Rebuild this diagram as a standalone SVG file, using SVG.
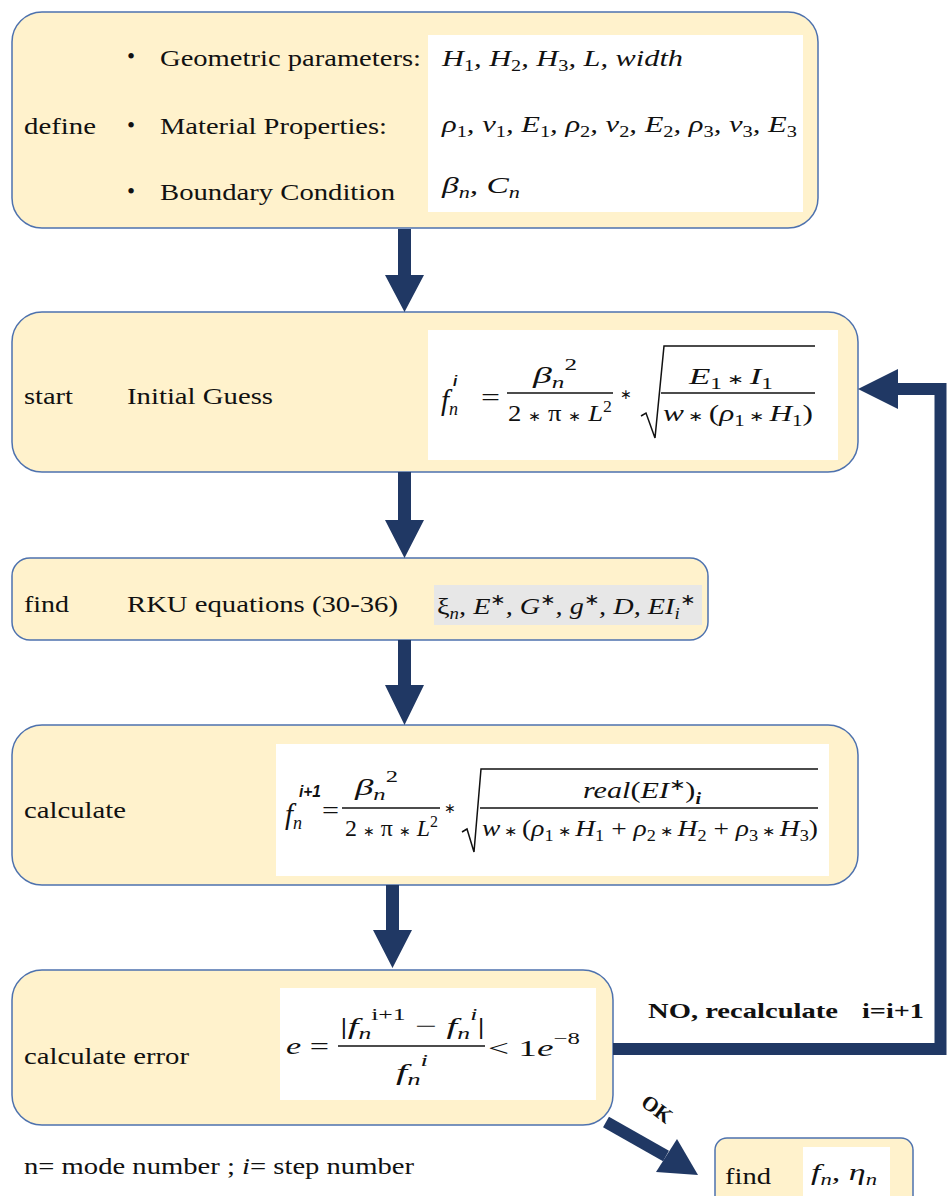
<svg xmlns="http://www.w3.org/2000/svg" width="947" height="1196" viewBox="0 0 947 1196">
<style>
.box{fill:#FFF2CC;stroke:#4E72AE;stroke-width:1.5}
.wb{fill:#FFFFFF}
.t{font-family:"Liberation Serif","Times New Roman",serif;font-size:23px;fill:#111}
.b{font-family:"Liberation Serif","Times New Roman",serif;font-size:21px;font-weight:bold;fill:#111}
.m{font-family:"Liberation Serif","Times New Roman",serif;font-style:italic;font-size:24px;fill:#111}
.u{font-style:normal}
.s{font-size:16px}
.a{font-style:normal;font-size:14px}
.fl{stroke:#111;stroke-width:1.3}
.ar{fill:#203864}
.al{fill:none;stroke:#203864;stroke-width:12}
</style>
<g id="define" font-family="Liberation Serif, serif">
<rect class="box" x="12" y="12" width="806" height="216" rx="30"/>
<rect class="wb" x="428" y="35" width="375" height="177"/>
<text class="t" x="24" y="134" textLength="72" lengthAdjust="spacingAndGlyphs">define</text>
<text class="t" x="127" y="64">•</text><text class="t" x="160" y="66" textLength="261" lengthAdjust="spacingAndGlyphs">Geometric parameters:</text>
<text class="t" x="127" y="133">•</text><text class="t" x="160" y="134" textLength="227" lengthAdjust="spacingAndGlyphs">Material Properties:</text>
<text class="t" x="127" y="199">•</text><text class="t" x="160" y="200" textLength="235" lengthAdjust="spacingAndGlyphs">Boundary Condition</text>
<text class="m" x="442" y="66" textLength="241" lengthAdjust="spacingAndGlyphs">H<tspan class="s u" dy="5">1</tspan><tspan dy="-5">, H</tspan><tspan class="s u" dy="5">2</tspan><tspan dy="-5">, H</tspan><tspan class="s u" dy="5">3</tspan><tspan dy="-5">, L, width</tspan></text>
<text class="m" x="442" y="132" textLength="355" lengthAdjust="spacingAndGlyphs">ρ<tspan class="s u" dy="5">1</tspan><tspan dy="-5">, ν</tspan><tspan class="s u" dy="5">1</tspan><tspan dy="-5">, E</tspan><tspan class="s u" dy="5">1</tspan><tspan dy="-5">, ρ</tspan><tspan class="s u" dy="5">2</tspan><tspan dy="-5">, ν</tspan><tspan class="s u" dy="5">2</tspan><tspan dy="-5">, E</tspan><tspan class="s u" dy="5">2</tspan><tspan dy="-5">, ρ</tspan><tspan class="s u" dy="5">3</tspan><tspan dy="-5">, ν</tspan><tspan class="s u" dy="5">3</tspan><tspan dy="-5">, E</tspan><tspan class="s u" dy="5">3</tspan></text>
<text class="m" x="442" y="193" textLength="78" lengthAdjust="spacingAndGlyphs">β<tspan class="s" dy="5">n</tspan><tspan dy="-5">, C</tspan><tspan class="s" dy="5">n</tspan></text>
</g>
<g id="start" font-family="Liberation Serif, serif">
<rect class="box" x="12" y="312" width="846" height="160" rx="30"/>
<rect class="wb" x="428" y="330" width="410" height="130"/>
<text class="t" x="24" y="404" textLength="49" lengthAdjust="spacingAndGlyphs">start</text>
<text class="t" x="127" y="404" textLength="146" lengthAdjust="spacingAndGlyphs">Initial Guess</text>
<text class="m" x="441" y="410" style="font-size:29px">f<tspan class="s" dy="5" style="font-size:18px">n</tspan></text>
<text x="453" y="386" font-family="Liberation Sans, Arial, sans-serif" font-weight="bold" font-style="italic" font-size="15" fill="#111">i</text>
<text class="m u" x="481" y="405" textLength="19" lengthAdjust="spacingAndGlyphs">=</text>
<text class="m" x="533" y="383" textLength="44" lengthAdjust="spacingAndGlyphs">β<tspan class="s" dy="5">n</tspan><tspan class="s u" dy="-18">2</tspan></text>
<line class="fl" x1="507" y1="393" x2="613" y2="393"/>
<text class="m" x="508" y="421" textLength="104" lengthAdjust="spacingAndGlyphs"><tspan class="u">2 </tspan><tspan class="a">∗</tspan><tspan class="u"> π </tspan><tspan class="a">∗</tspan> L<tspan class="s u" dy="-9">2</tspan></text>
<text class="a" x="626" y="399" text-anchor="middle" font-family="Liberation Serif, serif" fill="#111">∗</text>
<path d="M641 416 L646 413 L655 438 L664 346 L815 346" fill="none" stroke="#111" stroke-width="1.5"/>
<text class="m" x="689" y="384" textLength="84" lengthAdjust="spacingAndGlyphs">E<tspan class="s u" dy="5">1</tspan><tspan class="a" dy="-5"> ∗ </tspan>I<tspan class="s u" dy="5">1</tspan></text>
<line class="fl" x1="661" y1="393" x2="815" y2="393"/>
<text class="m" x="663" y="421" textLength="150" lengthAdjust="spacingAndGlyphs">w<tspan class="a"> ∗ </tspan><tspan class="u">(</tspan>ρ<tspan class="s u" dy="5">1</tspan><tspan class="a" dy="-5"> ∗ </tspan>H<tspan class="s u" dy="5">1</tspan><tspan class="u" dy="-5">)</tspan></text>
</g>
<g id="find-rku" font-family="Liberation Serif, serif">
<rect class="box" x="12" y="558" width="696" height="82" rx="18"/>
<rect fill="#E7E7E7" x="434" y="585" width="268" height="40"/>
<text class="t" x="24" y="612" textLength="45" lengthAdjust="spacingAndGlyphs">find</text>
<text class="t" x="127" y="612" textLength="271" lengthAdjust="spacingAndGlyphs">RKU equations (30-36)</text>
<text class="m" x="437" y="614" textLength="258" lengthAdjust="spacingAndGlyphs"><tspan class="u">ξ</tspan><tspan class="s" dy="5">n</tspan><tspan dy="-5">, E</tspan><tspan class="s u" dy="-9">∗</tspan><tspan dy="9">, G</tspan><tspan class="s u" dy="-9">∗</tspan><tspan dy="9">, g</tspan><tspan class="s u" dy="-9">∗</tspan><tspan dy="9">, D, EI</tspan><tspan class="s" dy="5">i</tspan><tspan class="s u" dy="-14">∗</tspan></text>
</g>
<g id="calculate" font-family="Liberation Serif, serif">
<rect class="box" x="12" y="725" width="846" height="160" rx="30"/>
<rect class="wb" x="276" y="744" width="553" height="132"/>
<text class="t" x="24" y="818" textLength="102" lengthAdjust="spacingAndGlyphs">calculate</text>
<text class="m" x="285" y="824" style="font-size:29px">f<tspan class="s" dy="5" style="font-size:18px">n</tspan></text>
<text x="299" y="797" font-family="Liberation Sans, Arial, sans-serif" font-weight="bold" font-style="italic" font-size="16" fill="#111" textLength="22" lengthAdjust="spacingAndGlyphs">i+1</text>
<text class="m u" x="322" y="818" textLength="17" lengthAdjust="spacingAndGlyphs">=</text>
<text class="m" x="355" y="795" textLength="43" lengthAdjust="spacingAndGlyphs">β<tspan class="s" dy="5">n</tspan><tspan class="s u" dy="-18">2</tspan></text>
<line class="fl" x1="342" y1="808" x2="440" y2="808"/>
<text class="m" x="345" y="836" textLength="93" lengthAdjust="spacingAndGlyphs"><tspan class="u">2 </tspan><tspan class="a">∗</tspan><tspan class="u"> π </tspan><tspan class="a">∗</tspan> L<tspan class="s u" dy="-9">2</tspan></text>
<text class="a" x="450" y="813" text-anchor="middle" font-family="Liberation Serif, serif" fill="#111">∗</text>
<path d="M462 832 L467 829 L474 852 L481 769 L818 769" fill="none" stroke="#111" stroke-width="1.5"/>
<text class="m" x="583" y="798" textLength="118" lengthAdjust="spacingAndGlyphs">real<tspan class="u">(</tspan>EI<tspan class="s u" dy="-8">∗</tspan><tspan class="u" dy="8">)</tspan><tspan class="s" font-weight="bold" dy="6">i</tspan></text>
<line class="fl" x1="480" y1="808" x2="818" y2="808"/>
<text class="m" x="482" y="836" textLength="336" lengthAdjust="spacingAndGlyphs">w<tspan class="a"> ∗ </tspan><tspan class="u">(</tspan>ρ<tspan class="s u" dy="5">1</tspan><tspan class="a" dy="-5"> ∗ </tspan>H<tspan class="s u" dy="5">1</tspan><tspan class="u" dy="-5"> + </tspan>ρ<tspan class="s u" dy="5">2</tspan><tspan class="a" dy="-5"> ∗ </tspan>H<tspan class="s u" dy="5">2</tspan><tspan class="u" dy="-5"> + </tspan>ρ<tspan class="s u" dy="5">3</tspan><tspan class="a" dy="-5"> ∗ </tspan>H<tspan class="s u" dy="5">3</tspan><tspan class="u" dy="-5">)</tspan></text>
</g>
<g id="calculate-error" font-family="Liberation Serif, serif">
<rect class="box" x="12" y="970" width="601" height="155" rx="30"/>
<rect class="wb" x="280" y="988" width="316" height="112"/>
<text class="t" x="24" y="1064" textLength="165" lengthAdjust="spacingAndGlyphs">calculate error</text>
<text class="m" x="286" y="1054" textLength="43" lengthAdjust="spacingAndGlyphs">e<tspan class="u"> =</tspan></text>
<text class="m" x="340" y="1034" textLength="145" lengthAdjust="spacingAndGlyphs"><tspan class="u">|</tspan>f<tspan class="s" dy="5">n</tspan><tspan class="s u" dy="-19">i+1</tspan><tspan class="u" dy="14"> − </tspan>f<tspan class="s" dy="5">n</tspan><tspan class="s" dy="-19">i</tspan><tspan class="u" dy="14">|</tspan></text>
<line class="fl" x1="338" y1="1046" x2="485" y2="1046"/>
<text class="m" x="396" y="1080" textLength="32" lengthAdjust="spacingAndGlyphs">f<tspan class="s" dy="5">n</tspan><tspan class="s" dy="-19">i</tspan></text>
<text class="m u" x="488" y="1056" textLength="92" lengthAdjust="spacingAndGlyphs">&lt; 1<tspan font-style="italic">e</tspan><tspan class="s" dy="-12">−8</tspan></text>
</g>
<g id="find-result" font-family="Liberation Serif, serif">
<rect class="box" x="715" y="1138" width="198" height="80" rx="12"/>
<rect class="wb" x="803" y="1147" width="87" height="49"/>
<text class="t" x="725" y="1184" textLength="46" lengthAdjust="spacingAndGlyphs">find</text>
<text class="m" x="811" y="1180" textLength="66" lengthAdjust="spacingAndGlyphs">f<tspan class="s" dy="5">n</tspan><tspan dy="-5">, η</tspan><tspan class="s" dy="5">n</tspan></text>
</g>
<g id="connectors" font-family="Liberation Serif, serif">
<polygon class="ar" points="398,229 411,229 411,275 424,275 404.5,312 385,275 398,275"/>
<polygon class="ar" points="398,472 411,472 411,520 424,520 404.5,558 385,520 398,520"/>
<polygon class="ar" points="398,640 411,640 411,685 424,685 404.5,725 385,685 398,685"/>
<polygon class="ar" points="386,885 399,885 399,930 412,930 392.5,968 373,930 386,930"/>
<path class="al" d="M613 1049 L940.5 1049 L940.5 389 L896 389"/>
<polygon class="ar" points="898,369 858,389 898,409"/>
<line class="al" stroke-width="13" x1="606" y1="1122" x2="666" y2="1156"/>
<polygon class="ar" points="656,1172 698,1175 677,1139"/>
<text class="b" x="648" y="1018" textLength="190" lengthAdjust="spacingAndGlyphs">NO, recalculate</text>
<text class="b" x="862" y="1018" textLength="62" lengthAdjust="spacingAndGlyphs">i=i+1</text>
<text class="b" x="657" y="1116" text-anchor="middle" transform="rotate(37 657 1109)">OK</text>
</g>
<text class="t" x="24" y="1174" textLength="390" lengthAdjust="spacingAndGlyphs">n= mode number ; <tspan font-style="italic">i</tspan>= step number</text>
</svg>
